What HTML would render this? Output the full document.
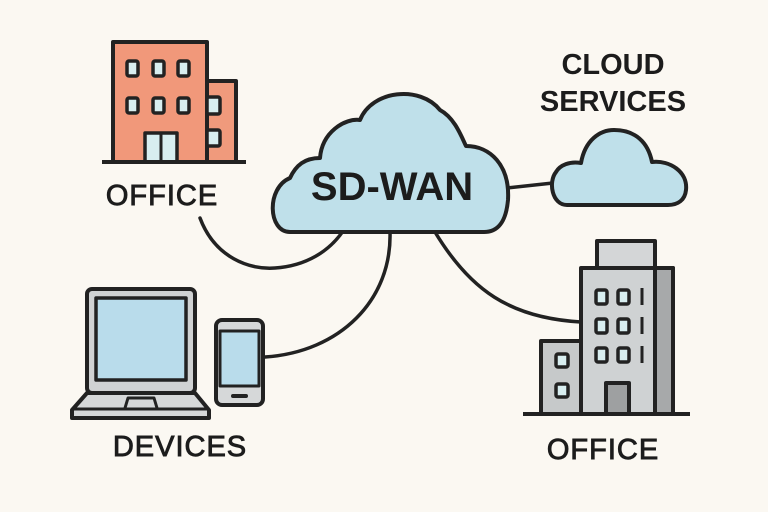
<!DOCTYPE html>
<html><head><style>
html,body{margin:0;padding:0;background:#fbf8f2;}
svg{display:block}
text{font-family:"Liberation Sans",sans-serif;fill:#1c1c1c;}
.lbl{stroke:#1c1c1c;stroke-width:0.9;}
</style></head><body>
<svg width="768" height="512" viewBox="0 0 768 512" xmlns="http://www.w3.org/2000/svg">
<rect width="768" height="512" fill="#fbf8f2"/>
<g fill="none" stroke="#222" stroke-width="3.5" stroke-linecap="round">
<path d="M200 218 C215 258 250 270 275 268 C305 266 330 252 345 228"/>
<path d="M390 232 C392 300 340 352 265 357"/>
<path d="M435 232 C470 290 510 318 581 322"/>
<path d="M507 188 L553 183"/>
</g>
<!-- office 1 -->
<g stroke="#222" stroke-width="4" stroke-linejoin="round">
<rect x="113" y="42" width="94" height="120" fill="#f1987a"/>
<rect x="207" y="81" width="29" height="81" fill="#f09a7c"/>
<g fill="#d8eef0" stroke-width="3.5">
<rect x="127" y="61" width="11" height="15" rx="2"/><rect x="153" y="61" width="11" height="15" rx="2"/><rect x="178" y="61" width="11" height="15" rx="2"/>
<rect x="127" y="98" width="11" height="15" rx="2"/><rect x="153" y="98" width="11" height="15" rx="2"/><rect x="178" y="98" width="11" height="15" rx="2"/>
<rect x="207" y="97" width="13" height="17" rx="2"/><rect x="207" y="130" width="13" height="16" rx="2"/>
<rect x="145" y="133" width="32" height="29"/>
</g>
<line x1="161" y1="133" x2="161" y2="162" stroke-width="3"/>
<line x1="102" y1="162" x2="246" y2="162"/>
</g>
<text class="lbl" x="162" y="205" font-size="29" text-anchor="middle" letter-spacing="1">OFFICE</text>
<!-- big cloud -->
<path d="M290 232 C268 232 266 188 290 178 C296 165 305 158 320 158 C322 132 345 118 360 120 C372 90 420 85 440 110 C455 118 462 138 466 146 C490 146 510 165 508 200 C506 222 498 232 484 232 Z" fill="#bfe0ea" stroke="#222" stroke-width="4" stroke-linejoin="round"/>
<text x="392" y="200" font-size="40" font-weight="bold" text-anchor="middle">SD-WAN</text>
<!-- small cloud -->
<path d="M567 205 C552 205 548 182 556 172 C560 165 570 161 581 163 C585 140 600 130 614 130 C635 130 648 142 652 162 C670 160 688 172 686 190 C685 200 678 205 668 205 Z" fill="#bfe0ea" stroke="#222" stroke-width="4" stroke-linejoin="round"/>
<text x="613" y="74" font-size="29" font-weight="bold" text-anchor="middle">CLOUD</text>
<text x="613" y="111" font-size="29" font-weight="bold" text-anchor="middle">SERVICES</text>
<!-- office 2 -->
<g stroke="#222" stroke-width="4" stroke-linejoin="round">
<rect x="597" y="241" width="58" height="27" fill="#d4d6d7"/>
<rect x="581" y="268" width="92" height="146" fill="#cfd2d3"/>
<rect x="655" y="268" width="18" height="146" fill="#a7a9aa"/>
<rect x="541" y="341" width="40" height="73" fill="#c6c9ca"/>
<g fill="#d8eef0" stroke-width="3.5">
<rect x="596" y="290" width="11" height="14" rx="2"/><rect x="618" y="290" width="11" height="14" rx="2"/>
<rect x="596" y="319" width="11" height="14" rx="2"/><rect x="618" y="319" width="11" height="14" rx="2"/>
<rect x="596" y="348" width="11" height="14" rx="2"/><rect x="618" y="348" width="11" height="14" rx="2"/>
<rect x="556" y="354" width="12" height="13" rx="2"/><rect x="556" y="384" width="12" height="13" rx="2"/>
</g>
<rect x="606" y="383" width="23" height="31" fill="#9ea0a1"/>
<g stroke-width="3"><line x1="642" y1="288" x2="642" y2="305"/><line x1="642" y1="317" x2="642" y2="334"/><line x1="642" y1="346" x2="642" y2="363"/></g>
<line x1="523" y1="414" x2="690" y2="414"/>
</g>
<text class="lbl" x="603" y="459" font-size="29" text-anchor="middle" letter-spacing="1">OFFICE</text>
<!-- laptop -->
<g stroke="#222" stroke-width="4" stroke-linejoin="round">
<rect x="87" y="289" width="108" height="104" rx="5" fill="#d0d2d3"/>
<rect x="96" y="298" width="90" height="82" fill="#b9dceb" stroke-width="3.5"/>
<path d="M87 393 L195 393 L209 410 L209 418 L72 418 L72 410 Z" fill="#d6d8d9"/>
<line x1="74" y1="409" x2="207" y2="409" stroke-width="3"/>
<path d="M125 408 L128 398 L154 398 L157 408" fill="none" stroke-width="3"/>
<rect x="216" y="320" width="47" height="85" rx="6" fill="#d6d8d9"/>
<rect x="220" y="331" width="39" height="55" fill="#b9dceb" stroke-width="3"/>
<line x1="233" y1="396" x2="246" y2="396" stroke-width="4" stroke-linecap="round"/>
</g>
<text class="lbl" x="180" y="456" font-size="29" text-anchor="middle" letter-spacing="1">DEVICES</text>
</svg>
</body></html>
